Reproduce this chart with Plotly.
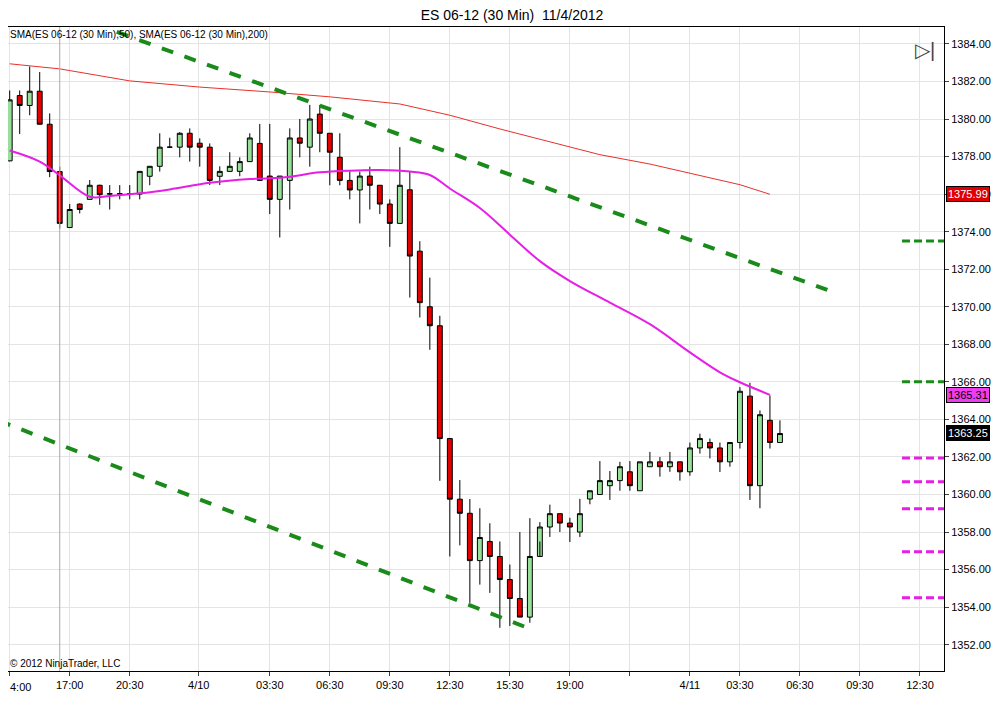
import plotly.graph_objects as go

# 30 min bars, index 0 = first bar on the chart
opens = [1377.77, 1381.25, 1380.72, 1381.48, 1379.72, 1377.20, 1374.22, 1375.47, 1375.72, 1376.47,
         1376.00, 1376.00, 1376.00, 1376.00, 1376.95, 1377.48, 1378.50, 1378.50, 1379.24, 1378.71,
         1378.50, 1376.95, 1377.21, 1377.21, 1377.73, 1378.70, 1376.96, 1375.72, 1376.73, 1378.99,
         1378.50, 1380.26, 1379.24, 1377.96, 1376.73, 1376.22, 1376.96, 1376.47, 1375.47, 1374.44,
         1376.23, 1372.96, 1370.00, 1368.99, 1362.98, 1359.75, 1359.00, 1356.48, 1357.50, 1356.70,
         1355.47, 1354.46, 1353.47, 1356.70, 1358.27, 1358.98, 1358.48, 1358.00, 1359.76, 1360.00,
         1360.47, 1360.74, 1361.21, 1360.20, 1361.48, 1361.74, 1361.48, 1361.74, 1361.21, 1362.48,
         1362.77, 1362.48, 1361.74, 1362.77, 1365.24, 1360.47, 1363.95, 1362.77]
highs = [1381.52, 1381.52, 1382.80, 1382.50, 1380.30, 1377.46, 1375.47, 1375.50, 1376.75, 1376.50,
         1376.48, 1376.48, 1376.48, 1377.21, 1377.50, 1379.24, 1379.00, 1379.30, 1379.50, 1378.97,
         1378.70, 1377.48, 1378.23, 1377.96, 1379.24, 1379.74, 1379.74, 1376.96, 1379.50, 1380.00,
         1380.75, 1380.75, 1379.24, 1379.24, 1377.21, 1377.20, 1377.46, 1376.47, 1375.72, 1378.50,
         1377.20, 1373.49, 1371.55, 1369.52, 1362.98, 1360.77, 1359.76, 1359.27, 1358.47, 1357.50,
         1356.27, 1358.00, 1358.74, 1358.53, 1359.46, 1358.98, 1358.76, 1359.77, 1360.20, 1361.78,
         1361.25, 1361.74, 1361.78, 1361.74, 1362.27, 1362.00, 1362.27, 1361.74, 1362.77, 1363.24,
         1362.98, 1362.77, 1362.77, 1365.72, 1365.95, 1364.48, 1365.28, 1363.95]
lows = [1377.75, 1379.20, 1380.20, 1379.72, 1376.90, 1374.17, 1374.22, 1374.97, 1375.72, 1375.43,
        1375.18, 1375.72, 1375.72, 1375.72, 1376.47, 1377.20, 1378.50, 1377.96, 1377.73, 1377.46,
        1376.48, 1376.48, 1377.21, 1376.95, 1377.73, 1376.73, 1374.94, 1373.69, 1375.18, 1377.96,
        1377.46, 1378.23, 1376.47, 1376.47, 1375.72, 1374.44, 1375.18, 1374.94, 1373.19, 1374.44,
        1370.49, 1369.43, 1367.71, 1360.73, 1356.70, 1357.29, 1354.23, 1355.20, 1354.76, 1352.90,
        1353.00, 1353.47, 1353.17, 1357.50, 1357.74, 1358.00, 1357.47, 1357.74, 1359.48, 1360.00,
        1359.71, 1360.20, 1360.20, 1360.20, 1361.48, 1360.95, 1361.21, 1360.74, 1361.00, 1362.18,
        1361.92, 1361.20, 1361.48, 1362.45, 1359.71, 1359.27, 1362.45, 1362.77]
closes = [1381.02, 1380.72, 1381.48, 1379.72, 1377.20, 1374.44, 1375.18, 1375.18, 1376.47, 1375.97,
          1376.02, 1376.02, 1376.02, 1377.21, 1377.48, 1378.50, 1378.50, 1379.24, 1378.50, 1378.50,
          1376.73, 1377.21, 1377.48, 1377.73, 1378.99, 1376.73, 1375.72, 1376.96, 1378.99, 1378.71,
          1380.00, 1379.24, 1378.23, 1376.73, 1376.22, 1376.96, 1376.47, 1375.47, 1374.44, 1376.47,
          1372.70, 1370.22, 1368.99, 1362.98, 1359.75, 1359.00, 1356.48, 1357.71, 1356.70, 1355.47,
          1354.46, 1353.47, 1356.70, 1358.27, 1358.98, 1358.48, 1358.27, 1358.98, 1360.20, 1360.74,
          1360.74, 1361.48, 1360.47, 1361.74, 1361.74, 1361.48, 1361.74, 1361.21, 1362.48, 1362.98,
          1362.48, 1361.74, 1362.77, 1365.50, 1360.47, 1364.25, 1362.77, 1363.25]

# moving averages at a few bars
sma50_x = [0, 3, 5, 8, 10, 13, 16, 20, 24, 26, 28, 31, 34, 37, 40, 42, 44, 47, 50, 53, 56, 60, 64, 68, 71, 73, 76]
sma50_y = [1378.32, 1377.73, 1377.00, 1375.86, 1375.90, 1376.04, 1376.25, 1376.60, 1376.80, 1376.84,
           1376.93, 1377.16, 1377.25, 1377.28, 1377.20, 1377.02, 1376.30, 1375.26, 1373.84, 1372.43,
           1371.37, 1370.22, 1369.07, 1367.57, 1366.51, 1365.98, 1365.31]
sma200_x = [0, 2, 5, 12, 19, 26, 32, 39, 44, 49, 54, 59, 64, 69, 73, 76]
sma200_y = [1382.94, 1382.83, 1382.67, 1382.03, 1381.70, 1381.44, 1381.18, 1380.80, 1380.20, 1379.47,
            1378.80, 1378.10, 1377.60, 1377.00, 1376.50, 1375.99]

# hand drawn trend lines
upper_x = [10.7, 82.0]
upper_y = [1384.64, 1370.85]
lower_x = [-1.07, 52.0]
lower_y = [1363.93, 1352.85]
green_levels = [1373.5, 1366.0]
magenta_levels = [1361.95, 1360.68, 1359.24, 1356.95, 1354.5]

tick_pos = [0, 6, 12, 18.9, 26, 32, 38, 44, 50, 56, 62, 68, 73, 79, 85, 91]
tick_text = ["04:00", "17:00", "20:30", "4/10", "03:30", "06:30", "09:30", "12:30", "15:30",
             "19:00", "", "4/11", "03:30", "06:30", "09:30", "12:30"]

bars = list(range(len(opens)))

fig = go.Figure()
fig.add_trace(go.Scatter(x=sma200_x, y=sma200_y, mode="lines", line=dict(color="#e8302a", width=1)))
fig.add_trace(go.Scatter(x=sma50_x, y=sma50_y, mode="lines", line=dict(color="#e61ee6", width=2, shape="spline")))
fig.add_trace(go.Candlestick(
    x=bars, open=opens, high=highs, low=lows, close=closes, whiskerwidth=0,
    increasing=dict(fillcolor="#98e09a", line=dict(color="black", width=1)),
    decreasing=dict(fillcolor="#e00000", line=dict(color="black", width=1)),
))
dash = dict(color="#1a8a1a", width=4, dash="dash")
fig.add_trace(go.Scatter(x=upper_x, y=upper_y, mode="lines", line=dash))
fig.add_trace(go.Scatter(x=lower_x, y=lower_y, mode="lines", line=dash))
for lv in green_levels:
    fig.add_trace(go.Scatter(x=[89.2, 93.4], y=[lv, lv], mode="lines",
                             line=dict(color="#1a8a1a", width=3, dash="8px,4px")))
for lv in magenta_levels:
    fig.add_trace(go.Scatter(x=[89.2, 93.4], y=[lv, lv], mode="lines",
                             line=dict(color="#e61ee6", width=3, dash="8px,4px")))

fig.add_vline(x=5, line=dict(color="#aaaaaa", width=1))

labels = [(sma200_y[-1], "#e00000", "white"), (sma50_y[-1], "#f03cf0", "black"), (closes[-1], "black", "white")]
for val, bg, fg in labels:
    fig.add_annotation(x=1.002, xref="paper", y=val, yref="y", xanchor="left", yanchor="middle",
                       text=f"{val:.2f}", showarrow=False, bgcolor=bg, bordercolor="black",
                       font=dict(size=11, color=fg, family="Arial"), borderpad=1)

fig.add_annotation(x=0.0, xref="paper", y=1, yref="paper", xanchor="left", yanchor="top",
                   text="SMA(ES 06-12 (30 Min),50), SMA(ES 06-12 (30 Min),200)",
                   showarrow=False, font=dict(size=10, color="black"))
fig.add_annotation(x=0.0, xref="paper", y=0, yref="paper", xanchor="left", yanchor="bottom",
                   text="© 2012 NinjaTrader, LLC", showarrow=False, font=dict(size=10, color="black"))
fig.add_annotation(x=0.0, xref="paper", y=-0.012, yref="paper", xanchor="left", yanchor="top",
                   text="4:00", showarrow=False, font=dict(size=11, color="black"))
fig.add_annotation(x=0.98, xref="paper", y=0.985, yref="paper", xanchor="center", yanchor="top",
                   text="▷|", showarrow=False, font=dict(size=20, color="#444"))

fig.update_layout(
    width=1008, height=720,
    title=dict(text="ES 06-12 (30 Min)  11/4/2012", x=0.5, y=0.997, yanchor="top", xanchor="center",
               font=dict(size=14, color="black", family="Arial")),
    margin=dict(l=0, r=72, t=19, b=57, autoexpand=False),
    paper_bgcolor="white", plot_bgcolor="white",
    showlegend=False, font=dict(family="Arial", size=11, color="black"),
)
fig.update_xaxes(range=[-0.17, 93.4], tickvals=tick_pos, ticktext=tick_text, rangeslider_visible=False,
                 showgrid=True, gridcolor="#e4e4e4", ticks="outside", ticklen=4,
                 showline=True, linecolor="black", mirror=True, zeroline=False)
fig.update_yaxes(range=[1350.6, 1384.9], side="right", dtick=2, tickformat=".2f",
                 showgrid=True, gridcolor="#e4e4e4", ticks="outside", ticklen=4,
                 showline=True, linecolor="black", mirror=True, zeroline=False)

fig.write_html("out.html")
